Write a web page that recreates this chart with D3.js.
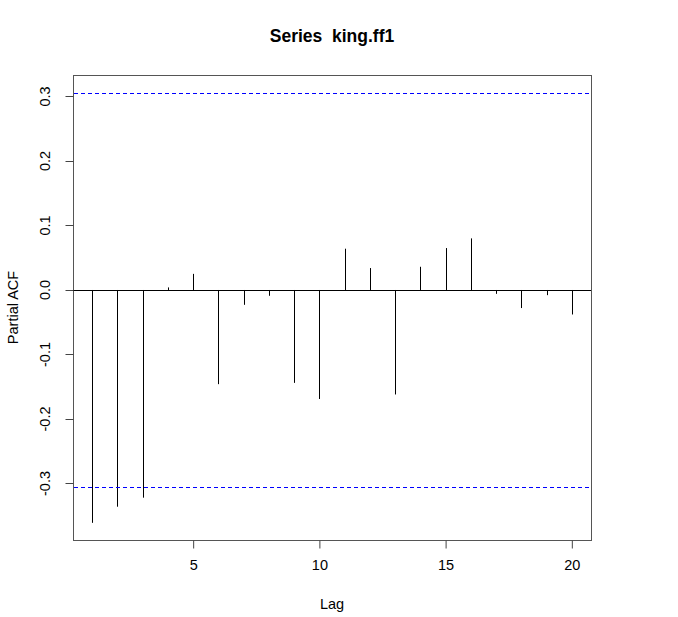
<!DOCTYPE html>
<html><head><meta charset="utf-8">
<script src="https://cdn.jsdelivr.net/npm/d3@7"></script>
<style>body{margin:0;background:#fff}text{font-family:"Liberation Sans",Arial,sans-serif}</style>
</head><body>
<svg id="c" width="678" height="617"></svg>
<script>
const lags = [1,2,3,4,5,6,7,8,9,10,11,12,13,14,15,16,17,18,19,20];
const pacf = [-0.361,-0.336,-0.322,0.004,0.025,-0.146,-0.023,-0.009,-0.144,-0.169,0.064,0.034,-0.162,0.036,0.065,0.080,-0.006,-0.028,-0.008,-0.038];
const clim = [0.306];
const xTicks = [5,10,15,20];
const yTicks = [-0.3,-0.2,-0.1,0.0,0.1,0.2,0.3];
const titleText = "Series  king.ff1";

const svg = d3.select("#c");
const L=73, R=591, T=75, B=540;
const x = d3.scaleLinear().domain([0.24,20.76]).range([L,R]);
const y = d3.scaleLinear().domain([-0.3876,0.3333]).range([B,T]);
const fmtY = d => d3.format(".1f")(d).replace("\u2212","-");

svg.append("rect").attr("x",L+0.5).attr("y",T+0.5).attr("width",R-L).attr("height",B-T)
  .attr("fill","none").attr("stroke","#555").attr("stroke-width",1);

svg.append("line").attr("x1",L).attr("x2",R).attr("y1",Math.round(y(0))+0.5).attr("y2",Math.round(y(0))+0.5)
  .attr("stroke","#000").attr("stroke-width",1);

svg.selectAll(".bar").data(lags).enter().append("line").attr("class","bar")
  .attr("x1",(d)=>Math.round(x(d))+0.5).attr("x2",(d)=>Math.round(x(d))+0.5)
  .attr("y1",y(0)).attr("y2",(d,i)=>y(pacf[i]))
  .attr("stroke","#000").attr("stroke-width",1);

svg.selectAll(".ci").data([clim[0], -clim[0]]).enter().append("line").attr("class","ci")
  .attr("x1",L+1).attr("x2",R).attr("y1",d=>Math.round(y(d))+0.5).attr("y2",d=>Math.round(y(d))+0.5)
  .attr("stroke","#0000ff").attr("stroke-width",1).attr("stroke-dasharray","4,3");

const xa = svg.append("g").attr("transform",`translate(0,${B+0.5})`)
  .call(d3.axisBottom(x).tickValues(xTicks).tickSize(8).tickFormat(d3.format("d")));
xa.select(".domain").remove();
xa.selectAll("line").attr("stroke","#444");
xa.selectAll("text").attr("font-size",14.5).attr("fill","#000").attr("dy","1.25em");

const ya = svg.append("g").attr("transform",`translate(${L+0.5},0)`)
  .call(d3.axisLeft(y).tickValues(yTicks).tickSize(8).tickFormat(fmtY));
ya.select(".domain").remove();
ya.selectAll(".tick").attr("transform","translate(0,0)");
ya.selectAll(".tick line").attr("stroke","#444").attr("y1",d=>Math.round(y(d))+0.5).attr("y2",d=>Math.round(y(d))+0.5);
ya.selectAll(".tick text").attr("font-size",14.5).attr("fill","#000")
  .attr("x",0).attr("y",0).attr("dy",0).attr("text-anchor","middle")
  .attr("transform",d=>`translate(-24,${y(d)}) rotate(-90)`);

svg.append("text").attr("x",(L+R)/2).attr("y",42).attr("text-anchor","middle")
  .attr("font-size",17.5).attr("font-weight","bold").style("white-space","pre").text(titleText);
svg.append("text").attr("x",(L+R)/2).attr("y",609).attr("text-anchor","middle")
  .attr("font-size",14.5).text("Lag");
svg.append("text").attr("transform",`translate(18,${(T+B)/2}) rotate(-90)`).attr("text-anchor","middle")
  .attr("font-size",14.5).text("Partial ACF");
</script>
</body></html>
